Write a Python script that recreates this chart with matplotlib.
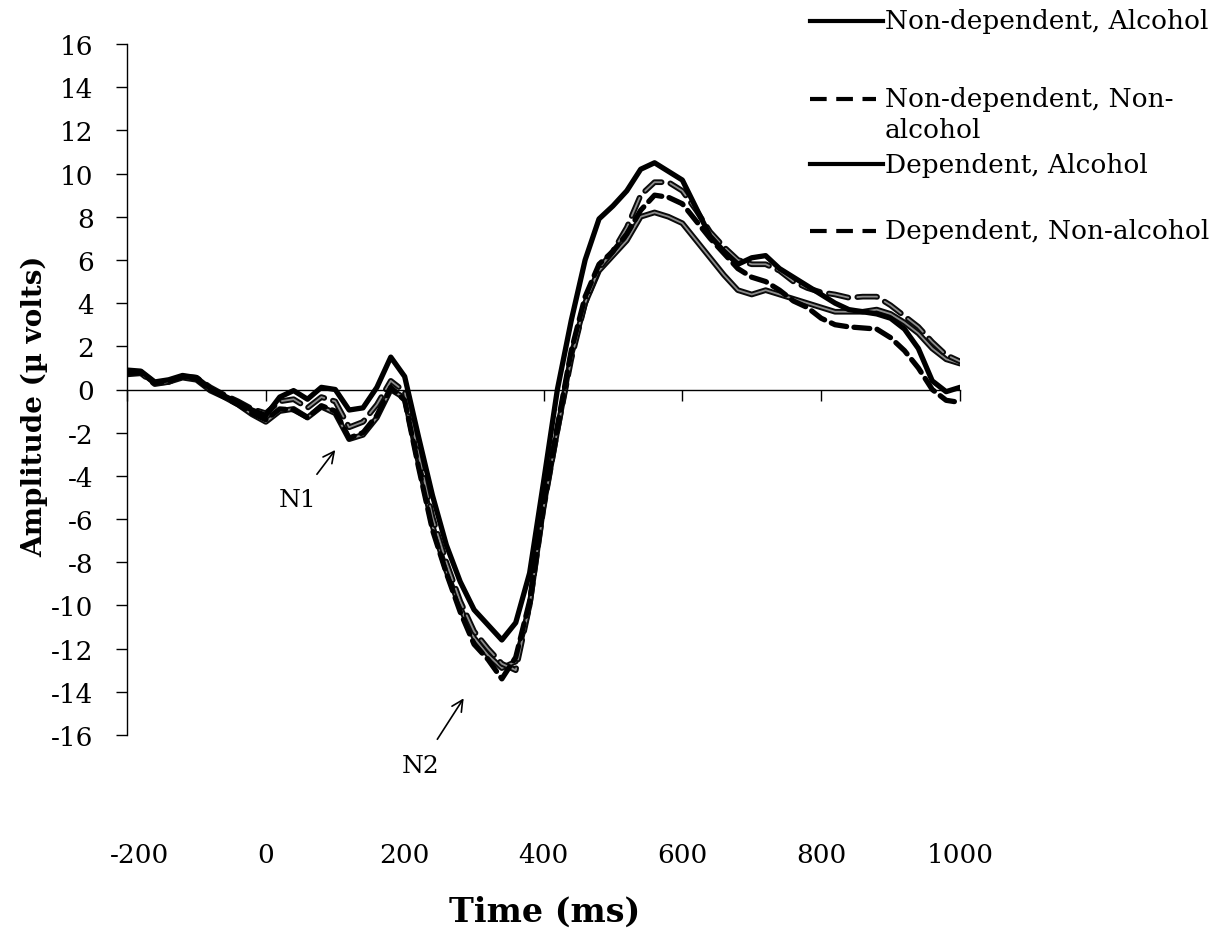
import matplotlib
matplotlib.use("Agg")
import matplotlib.pyplot as plt
import matplotlib.patheffects as pe
import matplotlib.transforms as mtransforms
from matplotlib.lines import Line2D

time_ms = list(range(-200, 1001, 20))

dep_alcohol = [0.9, 0.85, 0.35, 0.45, 0.65, 0.55, 0.05, -0.3, -0.6, -0.95,
               -1.2, -0.35, -0.05, -0.45, 0.1, 0.0, -0.95, -0.85, 0.1, 1.5,
               0.6, -2.2, -4.9, -7.2, -8.9, -10.2, -10.9, -11.6, -10.8, -8.5,
               -4.3, 0.0, 3.2, 6.0, 7.9, 8.5, 9.2, 10.2, 10.5, 10.1,
               9.7, 8.4, 7.1, 6.4, 5.8, 6.1, 6.2, 5.6, 5.2, 4.8,
               4.4, 4.0, 3.7, 3.6, 3.5, 3.3, 2.8, 1.9, 0.4, -0.1, 0.1]

nondep_nonalcohol = [0.7, 0.75, 0.25, 0.35, 0.6, 0.55, 0.1, -0.25, -0.55, -0.9,
                     -1.1, -0.55, -0.45, -0.85, -0.35, -0.55, -1.75, -1.5, -0.7, 0.4,
                     -0.1, -3.0, -5.9, -8.0, -9.8, -11.2, -12.0, -12.7, -13.0, -10.0,
                     -5.5, -1.9, 1.4, 4.0, 5.6, 6.4, 7.5, 9.0, 9.6, 9.6,
                     9.2, 8.3, 7.3, 6.6, 6.0, 5.8, 5.8, 5.5, 5.0, 4.7,
                     4.5, 4.4, 4.25, 4.3, 4.3, 3.9, 3.4, 2.9, 2.2, 1.6, 1.3]

dep_nonalcohol = [0.75, 0.8, 0.3, 0.4, 0.6, 0.5, 0.0, -0.35, -0.7, -1.1,
                  -1.4, -0.9, -0.95, -1.3, -0.75, -1.0, -2.25, -2.0, -1.2, 0.1,
                  -0.5, -3.6, -6.5, -8.5, -10.3, -11.8, -12.5, -13.4, -12.4, -9.8,
                  -5.3, -1.7, 1.8, 4.3, 5.8, 6.4, 7.2, 8.3, 9.0, 8.9,
                  8.6, 7.8, 7.0, 6.3, 5.6, 5.2, 5.0, 4.6, 4.1, 3.8,
                  3.3, 3.0, 2.9, 2.85, 2.8, 2.4, 1.8, 1.0, 0.0, -0.5, -0.6]

nondep_alcohol = [0.8, 0.8, 0.3, 0.35, 0.55, 0.45, -0.05, -0.35, -0.7, -1.15,
                  -1.5, -1.0, -0.9, -1.3, -0.8, -1.1, -2.3, -2.1, -1.3, 0.0,
                  -0.4, -3.4, -6.3, -8.4, -10.1, -11.5, -12.3, -12.9, -12.6, -10.0,
                  -5.4, -1.9, 1.6, 4.0, 5.5, 6.2, 6.9, 8.0, 8.2, 8.0,
                  7.7, 6.9, 6.1, 5.3, 4.6, 4.4, 4.6, 4.4, 4.2, 4.0,
                  3.8, 3.6, 3.6, 3.6, 3.7, 3.5, 3.1, 2.6, 1.9, 1.4, 1.2]

legend_labels = ["Non-dependent, Alcohol", "Non-dependent, Non-\nalcohol",
                 "Dependent, Alcohol", "Dependent, Non-alcohol"]
x_ticks = [-200, 0, 200, 400, 600, 800, 1000]
y_ticks = list(range(-16, 17, 2))

FONT = "DejaVu Serif"
plt.rcParams["font.family"] = [FONT]

fig = plt.figure(figsize=(12.3, 9.45), dpi=100)
ax = fig.add_axes([127 / 1230, 1 - 736 / 945, (960 - 127) / 1230, (736 - 45) / 945])

lw = 3.8
gray_fx = [pe.Stroke(linewidth=lw + 0.3, foreground="#0a0a0a"), pe.Normal()]

ax.plot(time_ms, nondep_alcohol, color="#8c8c8c", lw=1.3, solid_capstyle="round",
        path_effects=gray_fx)
ax.plot(time_ms, nondep_nonalcohol, color="#8c8c8c", lw=1.3, linestyle=(0, (11, 5)),
        dash_capstyle="round", path_effects=gray_fx)
ax.plot(time_ms, dep_nonalcohol, color="black", lw=lw, linestyle=(0, (3.0, 1.4)),
        dash_capstyle="round")
ax.plot(time_ms, dep_alcohol, color="black", lw=lw, solid_capstyle="round")

ax.set_xlim(-200, 1000)
ax.set_ylim(-16, 16)
ax.set_xticks(x_ticks)
ax.set_yticks(y_ticks)
ax.set_yticklabels([str(v) for v in y_ticks])
ax.set_xticklabels([str(v) for v in x_ticks])

for s in ["top", "right"]:
    ax.spines[s].set_visible(False)
ax.spines["bottom"].set_position(("data", 0))
ax.spines["bottom"].set_linewidth(1.0)
ax.spines["left"].set_linewidth(1.0)

ax.tick_params(axis="y", direction="out", length=8, width=1, labelsize=19, pad=16)
ax.tick_params(axis="x", direction="out", length=8, width=1, labelsize=19, pad=318)

# the first x label sits a little right of the axis line, as in the original
first = ax.get_xticklabels()[0]
first.set_transform(first.get_transform() +
                    mtransforms.ScaledTranslation(12 / 100, 0, fig.dpi_scale_trans))

fig.text(545 / 1230, 1 - 912 / 945, "Time (ms)", fontsize=24, fontweight="bold",
         ha="center", va="center")
fig.text(35 / 1230, 1 - 406 / 945, "Amplitude (\u00b5 volts)", fontsize=20,
         fontweight="bold", rotation=90, ha="center", va="center")

arrow = dict(arrowstyle="->", color="black", lw=1.2, mutation_scale=20)
ax.annotate("N1", xy=(100, -2.8), xytext=(46, -5.1), fontsize=18, ha="center",
            va="center", arrowprops=dict(arrow, shrinkA=10, shrinkB=0),
            annotation_clip=False)
ax.annotate("N2", xy=(285, -14.3), xytext=(223, -17.4), fontsize=18, ha="center",
            va="center", arrowprops=dict(arrow, shrinkA=10, shrinkB=0),
            annotation_clip=False)

# legend drawn in figure pixel coordinates
legend_rows = [22, 100, 165, 232]
legend_styles = ["-", "--", "-", "--"]
for ypix, label, ls in zip(legend_rows, legend_labels, legend_styles):
    yf = 1 - ypix / 945
    if ls == "-":
        fig.add_artist(Line2D([810 / 1230, 883 / 1230], [yf, yf], color="black", lw=3.0,
                              transform=fig.transFigure))
    else:
        fig.add_artist(Line2D([810 / 1230, 876 / 1230], [yf, yf], color="black", lw=3.0,
                              linestyle=(0, (4, 2.3)), transform=fig.transFigure))
    for k, part in enumerate(label.split("\n")):
        fig.text(885 / 1230, 1 - (ypix + 31 * k) / 945, part, fontsize=19,
                 ha="left", va="center")

fig.savefig("out.png", dpi=100)
